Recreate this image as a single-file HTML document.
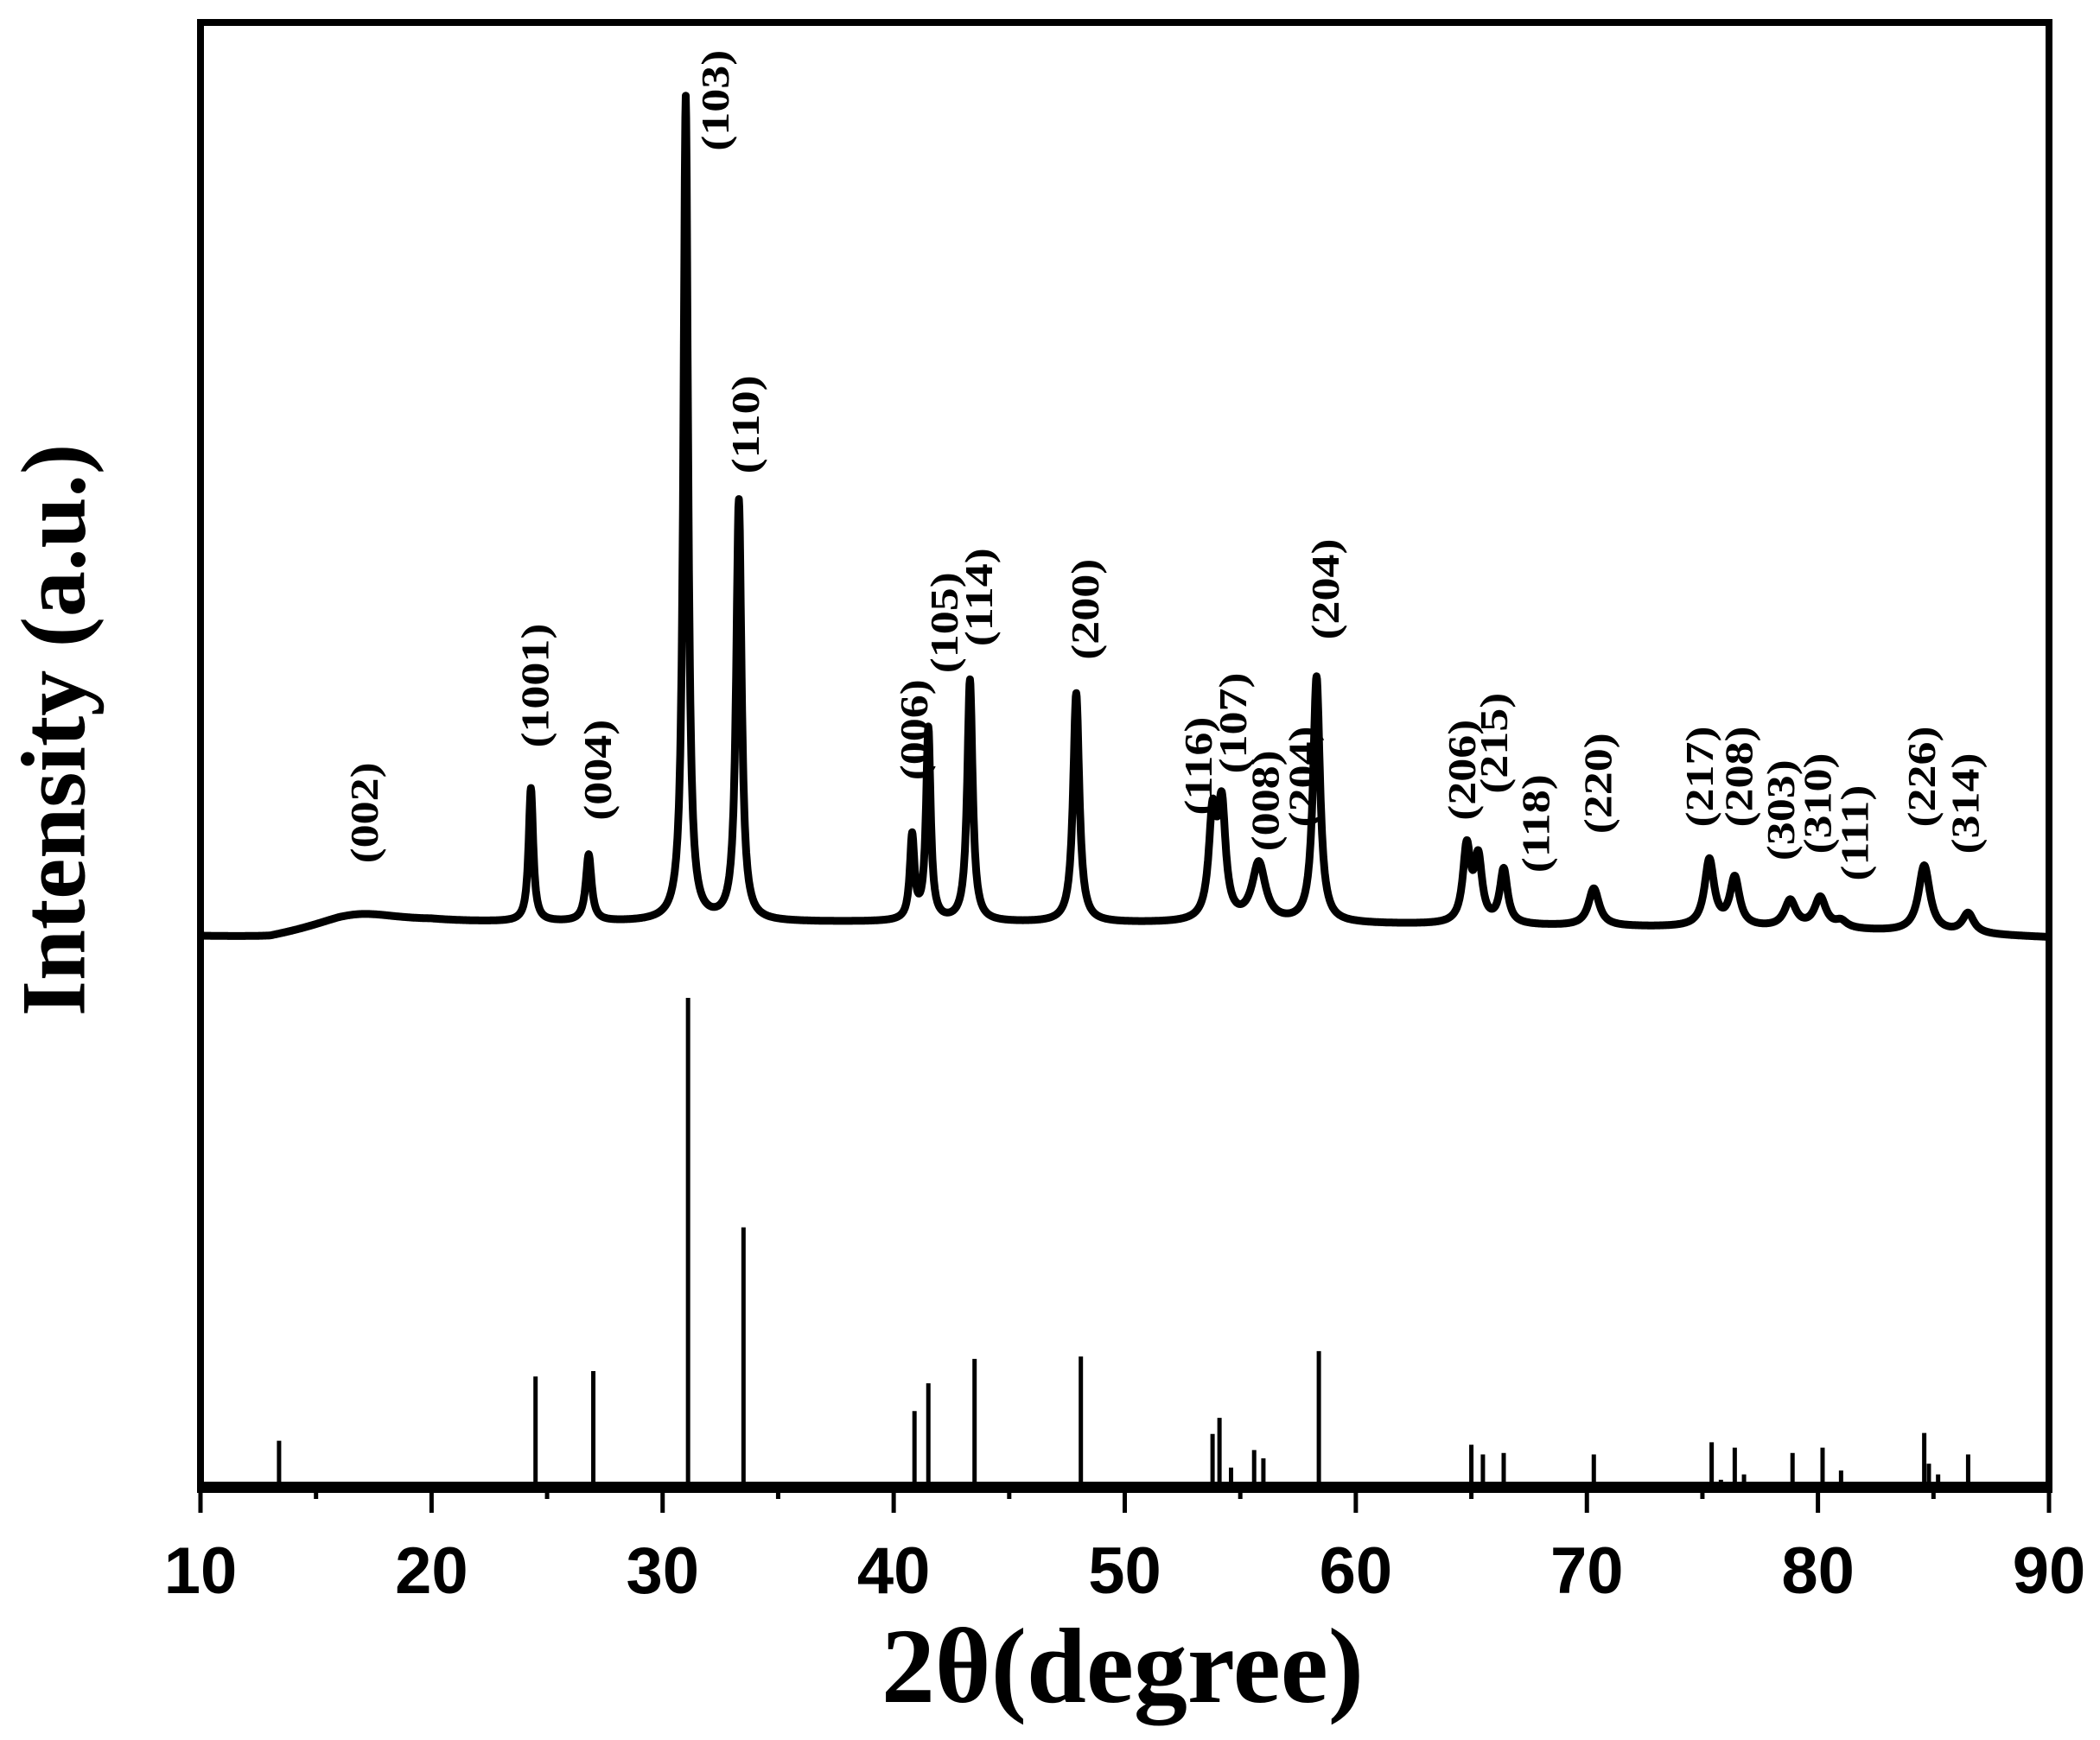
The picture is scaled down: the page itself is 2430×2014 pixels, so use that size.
<!DOCTYPE html>
<html><head><meta charset="utf-8">
<style>
html,body{margin:0;padding:0;background:#fff;}
svg{display:block;}
</style></head>
<body>
<svg id="chart" width="2430" height="2014" viewBox="0 0 2430 2014" xmlns="http://www.w3.org/2000/svg">
<rect x="0" y="0" width="2430" height="2014" fill="#fff"/>
<g id="plot"></g>
</svg>
<script>
// ---- data ----
const peakTheta  = [16.8, 24.3, 26.8, 31.0, 33.3, 40.8, 41.5, 43.3, 47.9, 53.8, 54.2, 55.8, 58.3, 64.8, 65.3, 66.4, 70.3, 75.3, 76.4, 78.8, 80.1, 81.0, 84.6, 86.5];
const peakHeight = [1.8, 16.0, 8.0, 99.0, 50.5, 10.0, 23.0, 29.0, 27.5, 12.0, 13.0, 7.0, 29.5, 9.0, 7.5, 6.5, 4.5, 8.0, 5.8, 3.2, 3.6, 0.8, 8.0, 2.4];
const peakWidth  = [2.4, 0.12, 0.15, 0.12, 0.14, 0.12, 0.12, 0.14, 0.16, 0.2, 0.2, 0.35, 0.18, 0.2, 0.2, 0.2, 0.28, 0.25, 0.25, 0.3, 0.3, 0.3, 0.3, 0.3];
const baseTheta  = [10, 13, 16, 20, 30, 40, 60, 80, 90];
const baseValue  = [0.0, -0.3, 0.8, 1.6, 1.8, 1.8, 1.6, 1.0, 0.0];
const refTheta   = [13.4, 24.5, 27.0, 31.1, 33.5, 40.9, 41.5, 43.5, 48.1, 53.8, 54.1, 54.6, 55.6, 56.0, 58.4, 65.0, 65.5, 66.4, 70.3, 71.3, 75.4, 75.8, 76.4, 76.8, 78.9, 80.2, 81.0, 84.6, 84.8, 85.2, 86.5];
const refValue   = [9.1, 22.3, 23.4, 100, 52.9, 15.2, 20.9, 25.9, 26.4, 10.5, 13.8, 3.6, 7.2, 5.5, 27.5, 8.3, 6.3, 6.6, 6.3, 0.6, 8.8, 1.1, 7.7, 2.2, 6.6, 7.7, 3.0, 10.7, 4.4, 2.2, 6.3];
const labelText  = ["(002)","(1001)","(004)","(103)","(110)","(006)","(105)","(114)","(200)","(116)","(107)","(008)","(204)","(204)","(206)","(215)","(118)","(220)","(217)","(208)","(303)","(310)","(111)","(226)","(314)"];
const labelTheta = [17.1, 24.5, 27.2, 32.3, 33.6, 40.9, 42.2, 43.7, 48.3, 53.2, 54.7, 56.1, 57.7, 58.7, 64.6, 66.0, 67.8, 70.5, 74.9, 76.6, 78.4, 80.0, 81.6, 84.5, 86.4];
const labelLevel = [607, 512, 575, 75, 317, 545, 465, 446, 455, 572, 540, 598, 580, 440, 575, 555, 615, 585, 580, 580, 605, 600, 622, 580, 600];
const xTicks     = [10, 20, 30, 40, 50, 60, 70, 80, 90];
const xMinor     = [15, 25, 35, 45, 55, 65, 75, 85];

// ---- scales ----
const L=232, R=2371, T=26, B=1719;
const x = t => L + (t-10)/80*(R-L);
const yObs = I => 1085 - I*9.64;
const yRef = I => B - I*5.64;
const lblY = v => v*1.55;

const NS="http://www.w3.org/2000/svg";
const plot=document.getElementById('plot');
function mk(tag, attrs, parent){const e=document.createElementNS(NS,tag);for(const k in attrs)e.setAttribute(k,attrs[k]);(parent||plot).appendChild(e);return e;}

function baseAt(t){
  for(let i=0;i<baseTheta.length-1;i++){
    if(t>=baseTheta[i]&&t<=baseTheta[i+1]){const f=(t-baseTheta[i])/(baseTheta[i+1]-baseTheta[i]);return baseValue[i]+f*(baseValue[i+1]-baseValue[i]);}
  }
  return 0;
}
function intensity(t){
  let s=baseAt(t);
  for(let i=0;i<peakTheta.length;i++){const d=(t-peakTheta[i])/peakWidth[i];s+=peakHeight[i]/(1+d*d);}
  return s;
}

let d="";
for(let t=10;t<=90.0001;t+=0.02){d+=(d?"L":"M")+x(t).toFixed(1)+","+yObs(intensity(t)).toFixed(1);}
const obs=mk('path',{d:d,fill:'none',stroke:'#000','stroke-width':'9','stroke-linejoin':'round'});



const refG=mk('g',{});


refTheta.forEach((t,i)=>{
  const l=mk('line',{x1:x(t),x2:x(t),y1:B,y2:yRef(refValue[i]),stroke:'#000','stroke-width':'5'},refG);
  
  
});

labelText.forEach((s,i)=>{
  const px=x(labelTheta[i]), py=lblY(labelLevel[i]);
  const tx=mk('text',{x:0,y:0,transform:`translate(${px},${py}) rotate(-90) scale(1.08,0.9)`,'text-anchor':'middle','dominant-baseline':'central','font-family':'Liberation Serif, serif','font-weight':'bold','font-size':'50'});
  tx.textContent=s;
  
  
});

const fr=mk('rect',{x:L,y:T,width:R-L,height:B-T,fill:'none',stroke:'#000','stroke-width':'8'});


const bx=mk('line',{x1:L-4,x2:R+4,y1:B+4,y2:B+4,stroke:'#000','stroke-width':'10'});



xTicks.forEach(t=>{
  const l=mk('line',{x1:x(t),x2:x(t),y1:B,y2:B+32,stroke:'#000','stroke-width':'5'});
  
  
  const tx=mk('text',{x:x(t),y:1844,'text-anchor':'middle','font-family':'Liberation Sans, sans-serif','font-weight':'bold','font-size':'76'});
  tx.textContent=t;
  
  
});
xMinor.forEach(t=>{
  const l=mk('line',{x1:x(t),x2:x(t),y1:B,y2:B+16,stroke:'#000','stroke-width':'5'});
  
  
});

const xt=mk('text',{x:1299,y:1970,'text-anchor':'middle','font-family':'Liberation Serif, serif','font-weight':'bold','font-size':'124'});
xt.textContent='2θ(degree)';


const yt=mk('text',{x:0,y:0,transform:'translate(62,845) rotate(-90)','text-anchor':'middle','dominant-baseline':'central','font-family':'Liberation Serif, serif','font-weight':'bold','font-size':'106'});
yt.textContent='Intensity (a.u.)';


</script>
</body></html>
